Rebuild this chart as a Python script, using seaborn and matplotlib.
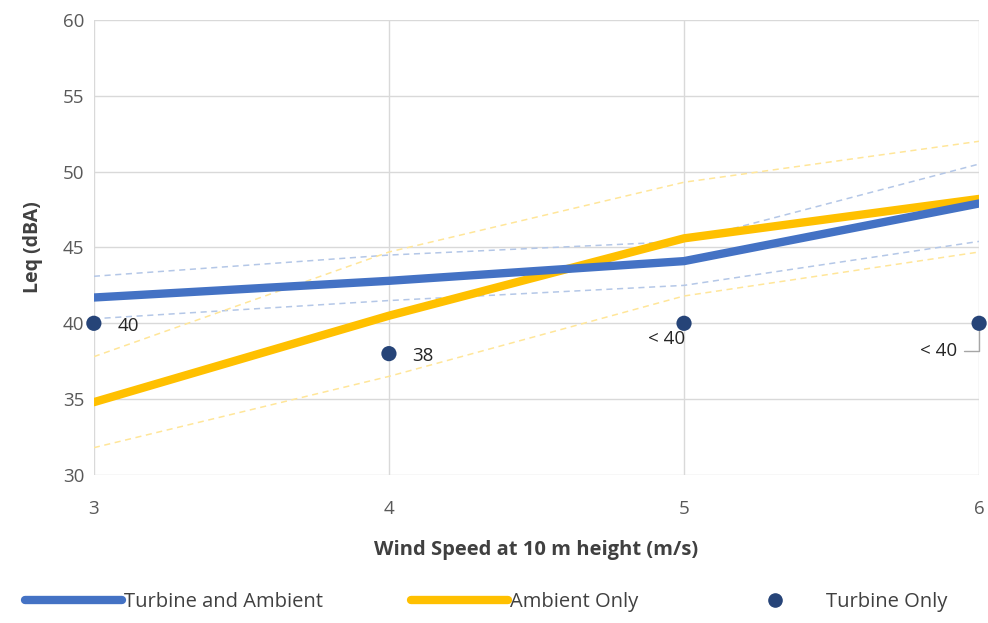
import numpy as np
import pandas as pd
import matplotlib
matplotlib.use('Agg')
import matplotlib.pyplot as plt
import seaborn as sns
from matplotlib.lines import Line2D

# data
wind_speed = [3, 4, 5, 6]
turbine_ambient = [41.7, 42.8, 44.1, 47.9]
turbine_ambient_hi = [43.1, 44.5, 45.4, 50.5]
turbine_ambient_lo = [40.3, 41.5, 42.5, 45.4]
ambient_only = [34.8, 40.5, 45.6, 48.2]
ambient_only_hi = [37.8, 44.7, 49.3, 52.0]
ambient_only_lo = [31.8, 36.5, 41.8, 44.7]
turbine_only = [40, 38, 40, 40]
turbine_labels = ['40', '38', '< 40', '< 40']

BLUE = '#4472C4'
YELLOW = '#FFC000'
DARK = '#264478'

sns.set_style('whitegrid', {'grid.color': '#D9D9D9', 'axes.edgecolor': '#D9D9D9'})
plt.rcParams['font.family'] = ['Open Sans', 'DejaVu Sans']

fig, ax = plt.subplots(figsize=(9.88, 6.23), dpi=100)
fig.subplots_adjust(left=0.095, right=0.991, top=0.968, bottom=0.2376)

# bounds (thin dashed)
for vals, col in [(turbine_ambient_hi, '#B4C7E7'), (turbine_ambient_lo, '#B4C7E7'),
                  (ambient_only_hi, '#FFE699'), (ambient_only_lo, '#FFE699')]:
    sns.lineplot(x=wind_speed, y=vals, ax=ax, color=col, lw=1.1, ls=(0, (4, 3)))

sns.lineplot(x=wind_speed, y=ambient_only, ax=ax, color=YELLOW, lw=6)
sns.lineplot(x=wind_speed, y=turbine_ambient, ax=ax, color=BLUE, lw=6)
sns.scatterplot(x=wind_speed, y=turbine_only, ax=ax, color=DARK, s=120,
                edgecolor='none', clip_on=False, zorder=5)

# point labels
lab_style = dict(fontsize=13.5, color='#262626', textcoords='offset points')
ax.annotate(turbine_labels[0], (wind_speed[0], turbine_only[0]), xytext=(17, -2),
            ha='left', va='center', **lab_style)
ax.annotate(turbine_labels[1], (wind_speed[1], turbine_only[1]), xytext=(17, -2),
            ha='left', va='center', **lab_style)
ax.annotate(turbine_labels[2], (wind_speed[2], turbine_only[2]), xytext=(1, -11),
            ha='right', va='center', **lab_style)
ax.annotate(turbine_labels[3], (wind_speed[3], turbine_only[3]), xytext=(-16, -20),
            ha='right', va='center', **lab_style,
            arrowprops=dict(arrowstyle='-', color='#A6A6A6', lw=1,
                            connectionstyle='angle,angleA=0,angleB=90,rad=0',
                            shrinkA=3, shrinkB=5))

ax.set_xlim(3, 6)
ax.set_ylim(30, 60)
ax.set_xticks(wind_speed)
ax.set_yticks(np.arange(30, 61, 5))
ax.tick_params(axis='both', length=0, labelsize=13.5, labelcolor='#595959')
ax.tick_params(axis='x', pad=18)
ax.tick_params(axis='y', pad=7)
for s in ax.spines.values():
    s.set_visible(False)
ax.grid(True, color='#D9D9D9', lw=1)

ax.set_xlabel('Wind Speed at 10 m height (m/s)', fontsize=14.5, fontweight='bold',
              color='#404040', labelpad=16)
ax.set_ylabel('Leq (dBA)', fontsize=14, fontweight='bold', color='#404040', labelpad=14)

handles = [Line2D([], [], color=BLUE, lw=6),
           Line2D([], [], color=YELLOW, lw=6),
           Line2D([], [], color=DARK, marker='o', ls='none', markersize=9.5)]
fig.legend(handles, ['Turbine and Ambient', 'Ambient Only', 'Turbine Only'],
           loc='lower center', bbox_to_anchor=(0.492, -0.012), ncol=3, frameon=False,
           fontsize=14.5, handlelength=4.8, handletextpad=0.1, columnspacing=4.4,
           labelcolor='#404040')

fig.savefig('out.png', dpi=100)
